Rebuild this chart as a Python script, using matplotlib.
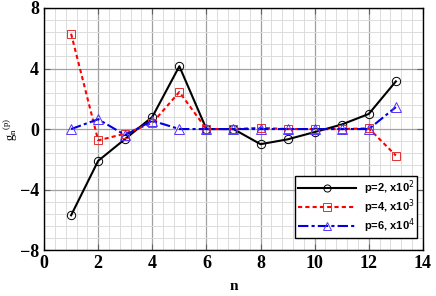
import matplotlib
matplotlib.use('Agg')
import matplotlib.pyplot as plt
from matplotlib.ticker import MultipleLocator

n = list(range(1, 14))
g2 = [-5.7, -2.1, -0.65, 0.8, 4.15, 0.0, 0.0, -1.0, -0.68, -0.2, 0.3, 1.0, 3.15]
g4 = [6.3, -0.75, -0.3, 0.4, 2.45, 0.0, 0.0, 0.08, 0.0, 0.0, 0.0, 0.05, -1.75]
g6 = [0.0, 0.65, -0.4, 0.55, 0.0, 0.0, 0.0, 0.0, 0.0, 0.0, 0.0, 0.0, 1.45]
labels = [r'p=2, x10$^{2}$', r'p=4, x10$^{3}$', r'p=6, x10$^{4}$']

fig = plt.figure(figsize=(4.36, 2.96), dpi=100)
ax = fig.add_axes([0.101, 0.155, 0.869, 0.818])

ax.plot(n, g2, color='black', lw=1.5, marker='o', ms=6, mfc='none', mec='black', mew=0.7, label=labels[0])
ax.plot(n, g4, color='red', lw=1.5, ls=(0, (2, 1.5)), marker='s', ms=6, mfc='none', mec='#e03030', mew=0.7, label=labels[1])
ax.plot(n, g6, color='#0000e0', lw=1.5, ls=(0, (5, 1.5, 1.5, 1.5)), marker='^', ms=7, mfc='none', mec='#5533ff', mew=0.7, label=labels[2])

ax.set_xlim(0, 14)
ax.set_ylim(-8, 8)
ax.xaxis.set_major_locator(MultipleLocator(2))
ax.xaxis.set_minor_locator(MultipleLocator(0.4))
ax.yaxis.set_major_locator(MultipleLocator(4))
ax.yaxis.set_minor_locator(MultipleLocator(0.8))
ax.grid(which='major', color='#a0a0a0', lw=0.9)
ax.grid(which='minor', color='#dcdcdc', lw=0.7)
ax.set_axisbelow(True)
ax.tick_params(which='both', direction='in', top=True, right=True, labelsize=13)
ax.tick_params(which='minor', length=0)
ax.tick_params(which='major', length=4, color='#606060')
for lab in ax.get_xticklabels() + ax.get_yticklabels():
    lab.set_family('Liberation Serif')
    lab.set_weight('bold')
for s in ax.spines.values():
    s.set_linewidth(1.0)

ax.set_xlabel('n', family='Liberation Serif', weight='bold', fontsize=11, labelpad=6)
ax.set_ylabel(r'g$_\mathregular{n}$$^{\mathregular{(p)}}$', family='Liberation Serif', fontsize=9)
ax.yaxis.set_label_coords(-0.063, 0.5)

leg = ax.legend(loc='lower right', bbox_to_anchor=(0.985, 0.05), prop={'family': 'Liberation Sans', 'weight': 'bold', 'size': 8},
                frameon=True, fancybox=False, edgecolor='black', framealpha=1, handlelength=5.2,
                borderpad=0.25, labelspacing=0.05, handletextpad=0.7, borderaxespad=0, markerscale=0.85)
leg.get_frame().set_linewidth(1.0)

fig.savefig('out.png', dpi=100)
